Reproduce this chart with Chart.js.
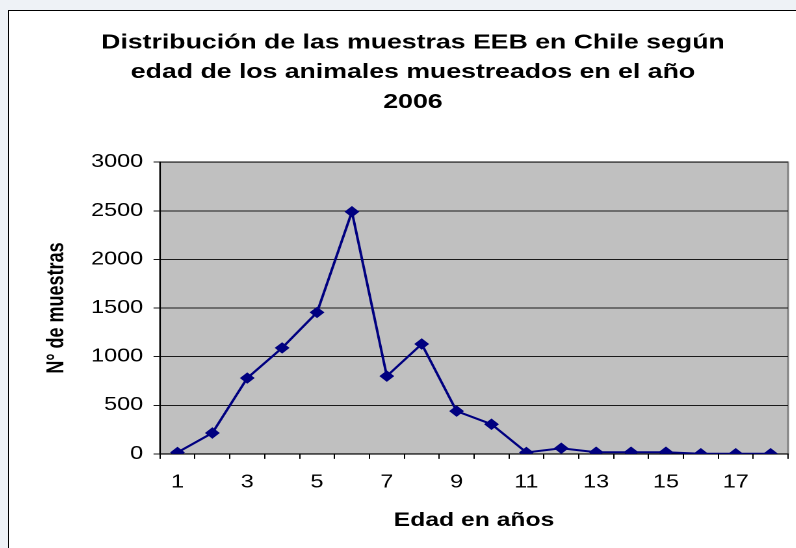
<!DOCTYPE html>
<html lang="es">
<head>
    <meta charset="UTF-8">
    <title>Muestras EEB Chile 2006</title>
    <script src="https://cdn.jsdelivr.net/npm/chart.js"></script>
    <style>
        body { margin: 0; background: #eef2f6; overflow: hidden; width: 796px; height: 548px; }
        #frame { position: absolute; left: 8px; top: 10px; width: 900px; height: 600px; background: #fff; border: 1px solid #000; }
        /* the original picture is stretched sideways, so the chart is drawn narrow and widened */
        #wrap { position: absolute; left: 10px; top: 12px; width: 616px; height: 536px; transform: scaleX(1.3); transform-origin: 0 0; }
    </style>
</head>
<body>
    <div id="frame"></div>
    <div id="wrap"><canvas id="chart"></canvas></div>

    <script>
        // edad en años
        const edades = ['1', '2', '3', '4', '5', '6', '7', '8', '9', '10', '11', '12', '13', '14', '15', '16', '17', '18'];
        // N° de muestras
        const muestras = [15, 215, 780, 1090, 1455, 2490, 800, 1130, 440, 305, 15, 58, 17, 17, 17, 2, 2, 2];
        const yMin = 0;
        const yMax = 3000;
        const yStep = 500;

        const titulo = ['Distribución de las muestras EEB en Chile según',
                        'edad de los animales muestreados en el año',
                        '2006'];

        const font = 'Liberation Sans, Arial, sans-serif';

        // gray plot background with a thin border
        const plotBg = {
            id: 'plotBg',
            beforeDraw(chart) {
                const a = chart.chartArea;
                const ctx = chart.ctx;
                ctx.save();
                ctx.fillStyle = '#c0c0c0';
                ctx.fillRect(a.left, a.top, a.right - a.left, a.bottom - a.top);
                ctx.strokeStyle = '#808080';
                ctx.lineWidth = 1.5;
                ctx.strokeRect(a.left, a.top, a.right - a.left, a.bottom - a.top);
                ctx.restore();
            }
        };

        new Chart(document.getElementById('chart'), {
            type: 'line',
            data: {
                labels: edades,
                datasets: [{
                    data: muestras,
                    borderColor: '#000080',
                    backgroundColor: '#000080',
                    borderWidth: 2,
                    pointStyle: 'rectRot',
                    pointRadius: 5,
                    pointBorderWidth: 1,
                    tension: 0
                }]
            },
            options: {
                responsive: true,
                maintainAspectRatio: false,
                devicePixelRatio: 2,
                animation: false,
                layout: { padding: { left: 21.4, right: 17.5, top: 0, bottom: 11.7 } },
                plugins: {
                    legend: { display: false },
                    tooltip: { enabled: false },
                    title: {
                        display: true,
                        text: titulo,
                        color: '#000',
                        font: { family: font, size: 20.5, weight: 'bold', lineHeight: 1.45 },
                        padding: { top: 16, bottom: 45 }
                    }
                },
                scales: {
                    x: {
                        offset: true,
                        grid: { offset: true, drawOnChartArea: false, color: '#000', tickLength: 5 },
                        border: { color: '#000', width: 1 },
                        ticks: {
                            autoSkip: false,
                            maxRotation: 0,
                            padding: 13,
                            color: '#000',
                            font: { family: font, size: 18 },
                            callback: (v, i) => (i % 2 === 0 ? edades[i] : '')
                        },
                        title: {
                            display: true,
                            text: 'Edad en años',
                            color: '#000',
                            font: { family: font, size: 19, weight: 'bold' },
                            padding: { top: 3, bottom: 4 }
                        }
                    },
                    y: {
                        min: yMin,
                        max: yMax,
                        afterFit: (s) => { s.width = 94; },
                        grid: { color: '#1a1a1a', tickLength: 5 },
                        border: { color: '#000', width: 1 },
                        ticks: {
                            stepSize: yStep,
                            padding: 8,
                            color: '#000',
                            font: { family: font, size: 18 },
                            callback: (v) => String(v)
                        },
                        title: {
                            display: true,
                            text: 'N° de muestras',
                            color: '#000',
                            font: { family: font, size: 18, weight: 'bold' },
                            padding: { top: 4, bottom: 4 }
                        }
                    }
                }
            },
            plugins: [plotBg]
        });
    </script>
</body>
</html>
